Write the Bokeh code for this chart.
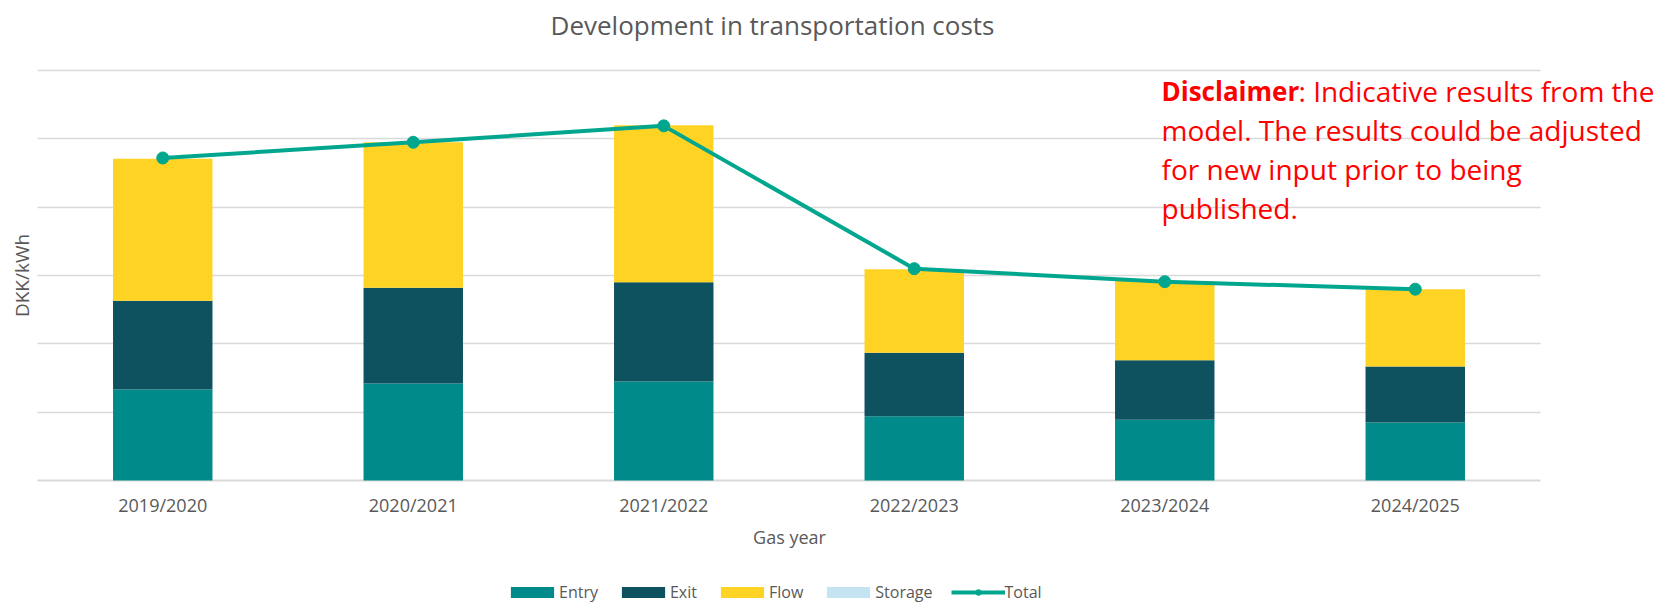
import math
from bokeh.plotting import figure
from bokeh.models import (ColumnDataSource, Range1d, FixedTicker, Label, Legend,
                          LegendItem, Grid)
from bokeh.core.properties import value
from bokeh.embed import file_html
from bokeh.resources import INLINE

# ---- data (DKK/kWh) ----
years = ["2019/2020", "2020/2021", "2021/2022", "2022/2023", "2023/2024", "2024/2025"]
entry = [0.0133, 0.0142, 0.0145, 0.0094, 0.0089, 0.0085]
exit_ = [0.0130, 0.0140, 0.0145, 0.0093, 0.0087, 0.0082]
flow = [0.0208, 0.0213, 0.0230, 0.0122, 0.0116, 0.0113]
storage = [0.0, 0.0, 0.0, 0.0, 0.0, 0.0]
total = [0.0472, 0.0495, 0.0519, 0.0310, 0.0291, 0.0280]
grid_ticks = [0.01, 0.02, 0.03, 0.04, 0.05, 0.06]

series_names = ["Entry", "Exit", "Flow", "Storage"]
series_colors = ["#008B8A", "#0D525E", "#FFD324", "#C3E4F0"]
total_color = "#00A78E"
text_gray = "#595959"
grid_gray = "#D9D9D9"
FONT = "Open Sans"

W, H = 1659, 605
xs = list(range(len(years)))
src = ColumnDataSource(dict(x=xs, label=years, entry=entry, exit=exit_, flow=flow,
                            storage=storage, total=total))

# the frame covers the whole canvas; ranges are chosen so that the plot area
# (between the grid bounds) sits where it is in the reference
p = figure(width=W, height=H, title=None,
           x_range=Range1d(-0.6477, 5.975), y_range=Range1d(-0.018293, 0.070247),
           x_axis_location=None, y_axis_location=None,
           output_backend="svg", toolbar_location=None, min_border=0)
p.outline_line_color = None
p.background_fill_color = "white"
p.border_fill_color = "white"
for g in p.xgrid + p.ygrid:
    g.visible = False

cross = (xs[0] - 0.5, xs[-1] + 0.5)
p.add_layout(Grid(dimension=1, ticker=FixedTicker(ticks=grid_ticks),
                  cross_bounds=cross, grid_line_color=grid_gray,
                  grid_line_width=1.3))
p.add_layout(Grid(dimension=1, ticker=FixedTicker(ticks=[0.0]),
                  cross_bounds=cross, grid_line_color=grid_gray,
                  grid_line_width=2.2))

bars = p.vbar_stack(["entry", "exit", "flow", "storage"], x="x", width=0.397,
                    color=series_colors, line_width=0, source=src)
ln = p.line(x="x", y="total", line_color=total_color, line_width=4, source=src)
sc = p.scatter(x="x", y="total", size=12, fill_color=total_color,
               line_color=total_color, source=src)

# category labels under the baseline
p.text(x="x", y=0, text="label", source=src, y_offset=24,
       text_font=value(FONT), text_font_size="18px", text_color=text_gray,
       text_align="center", text_baseline="middle")

# titles
p.add_layout(Label(x=772, y=H - 24, x_units="screen", y_units="screen",
                   text="Development in transportation costs", text_font=FONT,
                   text_font_size="26px", text_color=text_gray,
                   text_align="center", text_baseline="middle"))
p.add_layout(Label(x=21, y=H - 275, x_units="screen", y_units="screen",
                   text="DKK/kWh", text_font=FONT, text_font_size="19px",
                   text_color=text_gray, angle=math.pi / 2,
                   text_align="center", text_baseline="middle"))
p.add_layout(Label(x=789, y=H - 536, x_units="screen", y_units="screen",
                   text="Gas year", text_font=FONT, text_font_size="18px",
                   text_color=text_gray, text_align="center",
                   text_baseline="middle"))

# legend
items = [LegendItem(label=n, renderers=[r]) for n, r in zip(series_names, bars)]
items.append(LegendItem(label="Total", renderers=[ln, sc]))
legend = Legend(items=items, orientation="horizontal", location=(505, 2),
                glyph_width=54, glyph_height=14, label_standoff=0, spacing=18,
                padding=0, margin=0, border_line_alpha=0, background_fill_alpha=0,
                label_text_font=FONT, label_text_font_size="16px",
                label_text_color=text_gray)
p.add_layout(legend)

# disclaimer
dx, dy0, step = 1161, H - 90, 39
p.add_layout(Label(x=dx, y=dy0, x_units="screen", y_units="screen",
                   text="Disclaimer", text_font=FONT, text_font_size="26px",
                   text_font_style="bold", text_color="#FF0000",
                   text_baseline="middle"))
p.add_layout(Label(x=dx + 137, y=dy0, x_units="screen", y_units="screen",
                   text=": Indicative results from the", text_font=FONT,
                   text_font_size="28px", text_color="#FF0000",
                   text_baseline="middle"))
for i, t in enumerate(["model. The results could be adjusted",
                       "for new input prior to being", "published."]):
    p.add_layout(Label(x=dx, y=dy0 - step * (i + 1), x_units="screen",
                       y_units="screen", text=t, text_font=FONT,
                       text_font_size="28px", text_color="#FF0000",
                       text_baseline="middle"))

open("out.html", "w").write(file_html(p, INLINE))
